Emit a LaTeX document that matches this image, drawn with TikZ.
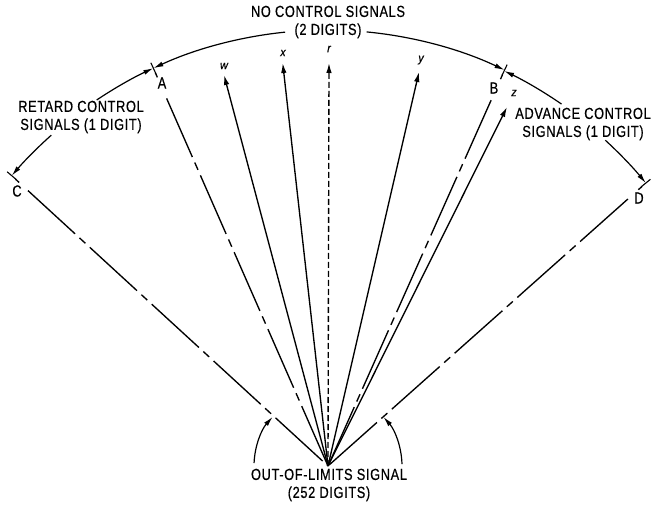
\documentclass[tikz,border=0pt]{standalone}
\usepackage{fontspec}
\setmainfont{Liberation Sans}[FakeStretch=0.8,LetterSpace=4,FakeBold=0.5]
\newfontfamily\varfont{Liberation Sans}[FakeStretch=0.9,FakeBold=0.5]
\usetikzlibrary{arrows.meta,calc}
\begin{document}
\begin{tikzpicture}[x=1pt,y=1pt,
  ray/.style={line width=1.35pt},
  tipray/.style={line width=1.35pt,-{Latex[length=10pt,width=5.5pt]}},
  rdash/.style={tipray,dash pattern=on 6pt off 3pt},
  phantom/.style={line width=1.35pt,dash pattern=on 64pt off 6pt on 8pt off 6pt},
  arcarrow/.style={line width=1.2pt,-{Latex[length=10pt,width=5pt]}},
  tickmark/.style={line width=1.1pt},
  lbl/.style={font=\fontsize{16}{18}\selectfont,align=center,inner sep=1pt},
  letter/.style={font=\fontsize{16}{16}\selectfont,inner sep=1.5pt},
  var/.style={font=\fontsize{12}{13}\selectfont\varfont\itshape,inner sep=1pt}]
\useasboundingbox (0,0) rectangle (654,504);
\coordinate (O) at (328,38);
\coordinate (Q) at (327,60);
% ticks on the big arc
\coordinate (At) at ($(Q)+(114.8:414)$);
\coordinate (Bt) at ($(Q)+(64.6:414)$);
\coordinate (Ct) at ($(Q)+(139.6:414)$);
\coordinate (Dt) at ($(Q)+(39.3:412)$);
\foreach \a/\r in {114.8/414,64.6/414,139.6/414,39.3/412}{
  \draw[tickmark] ($(Q)+(\a:\r-6)$) -- ($(Q)+(\a:\r+6)$);
}
% big arc pieces
\draw[arcarrow] ($(Q)+(95.8:414)$) arc[start angle=95.8,end angle=114.8,radius=414];
\draw[arcarrow] ($(Q)+(84.5:414)$) arc[start angle=84.5,end angle=64.6,radius=414];
\draw[arcarrow] ($(Q)+(123.8:414)$) arc[start angle=123.8,end angle=114.8,radius=414];
\draw[arcarrow] ($(Q)+(131.75:414)$) arc[start angle=131.75,end angle=139.6,radius=414];
\draw[arcarrow] ($(Q)+(55.4:413)$) arc[start angle=55.4,end angle=64.6,radius=413];
\draw[arcarrow] ($(Q)+(47.5:412)$) arc[start angle=47.5,end angle=39.3,radius=412];
% labels of limits
\node[letter] (Alab) at (162,421) {A};
\node[letter] (Blab) at (494,416) {B};
\node[letter] (Clab) at (17,313) {C};
\node[letter] (Dlab) at (639,306) {D};
% start points of phantom lines
\coordinate (As) at ($(At)!33pt!(O)$);
\coordinate (Bs) at ($(Bt)!33pt!(O)$);
\coordinate (Cs) at ($(Ct)!22pt!(O)$);
\coordinate (Ds) at ($(Dt)!24pt!(O)$);
\foreach \n in {A,B,C,D}{
  \coordinate (\n d1) at ($(\n t)!5pt!(O)$);
  \coordinate (\n d2) at ($(\n t)!10pt!(O)$);
  \draw[ray] (\n d1) -- (\n d2);
  \draw[phantom] (\n s) -- (O);
}
% arrows w x r y z
\coordinate (wt) at (224,429);
\coordinate (xt) at (282.7,441);
\coordinate (rt) at (329,441);
\coordinate (yt) at (419,432);
\coordinate (zt) at (507,397);
\node[var] (wl) at (224,438) {w};
\node[var] (xl) at (283,451) {x};
\node[var] (rl) at (329,455) {r};
\node[var] (yl) at (421,444) {y};
\node[var] (zl) at (514,411) {z};
\draw[tipray] (O) -- (wt);
\draw[tipray] (O) -- (xt);
\draw[rdash] (O) -- (rt);
\draw[tipray] (O) -- (yt);
\draw[tipray] (O) -- (zt);
% lower arcs
\draw[arcarrow] ($(O)+(177.7:74)$) arc[start angle=177.7,end angle=138.3,radius=74];
\draw[arcarrow] ($(O)+(1.5:74)$) arc[start angle=1.5,end angle=41.5,radius=74];
% texts
\node[lbl] (nocs) at (328,482) {NO CONTROL SIGNALS\\(2 DIGITS)};
\node[lbl] (ret) at (81,387) {RETARD CONTROL\\SIGNALS (1 DIGIT)};
\node[lbl] (adv) at (583,380) {ADVANCE CONTROL\\SIGNALS (1 DIGIT)};
\node[lbl] (ool) at (329,19) {OUT-OF-LIMITS SIGNAL\\(252 DIGITS)};
\end{tikzpicture}
\end{document}
